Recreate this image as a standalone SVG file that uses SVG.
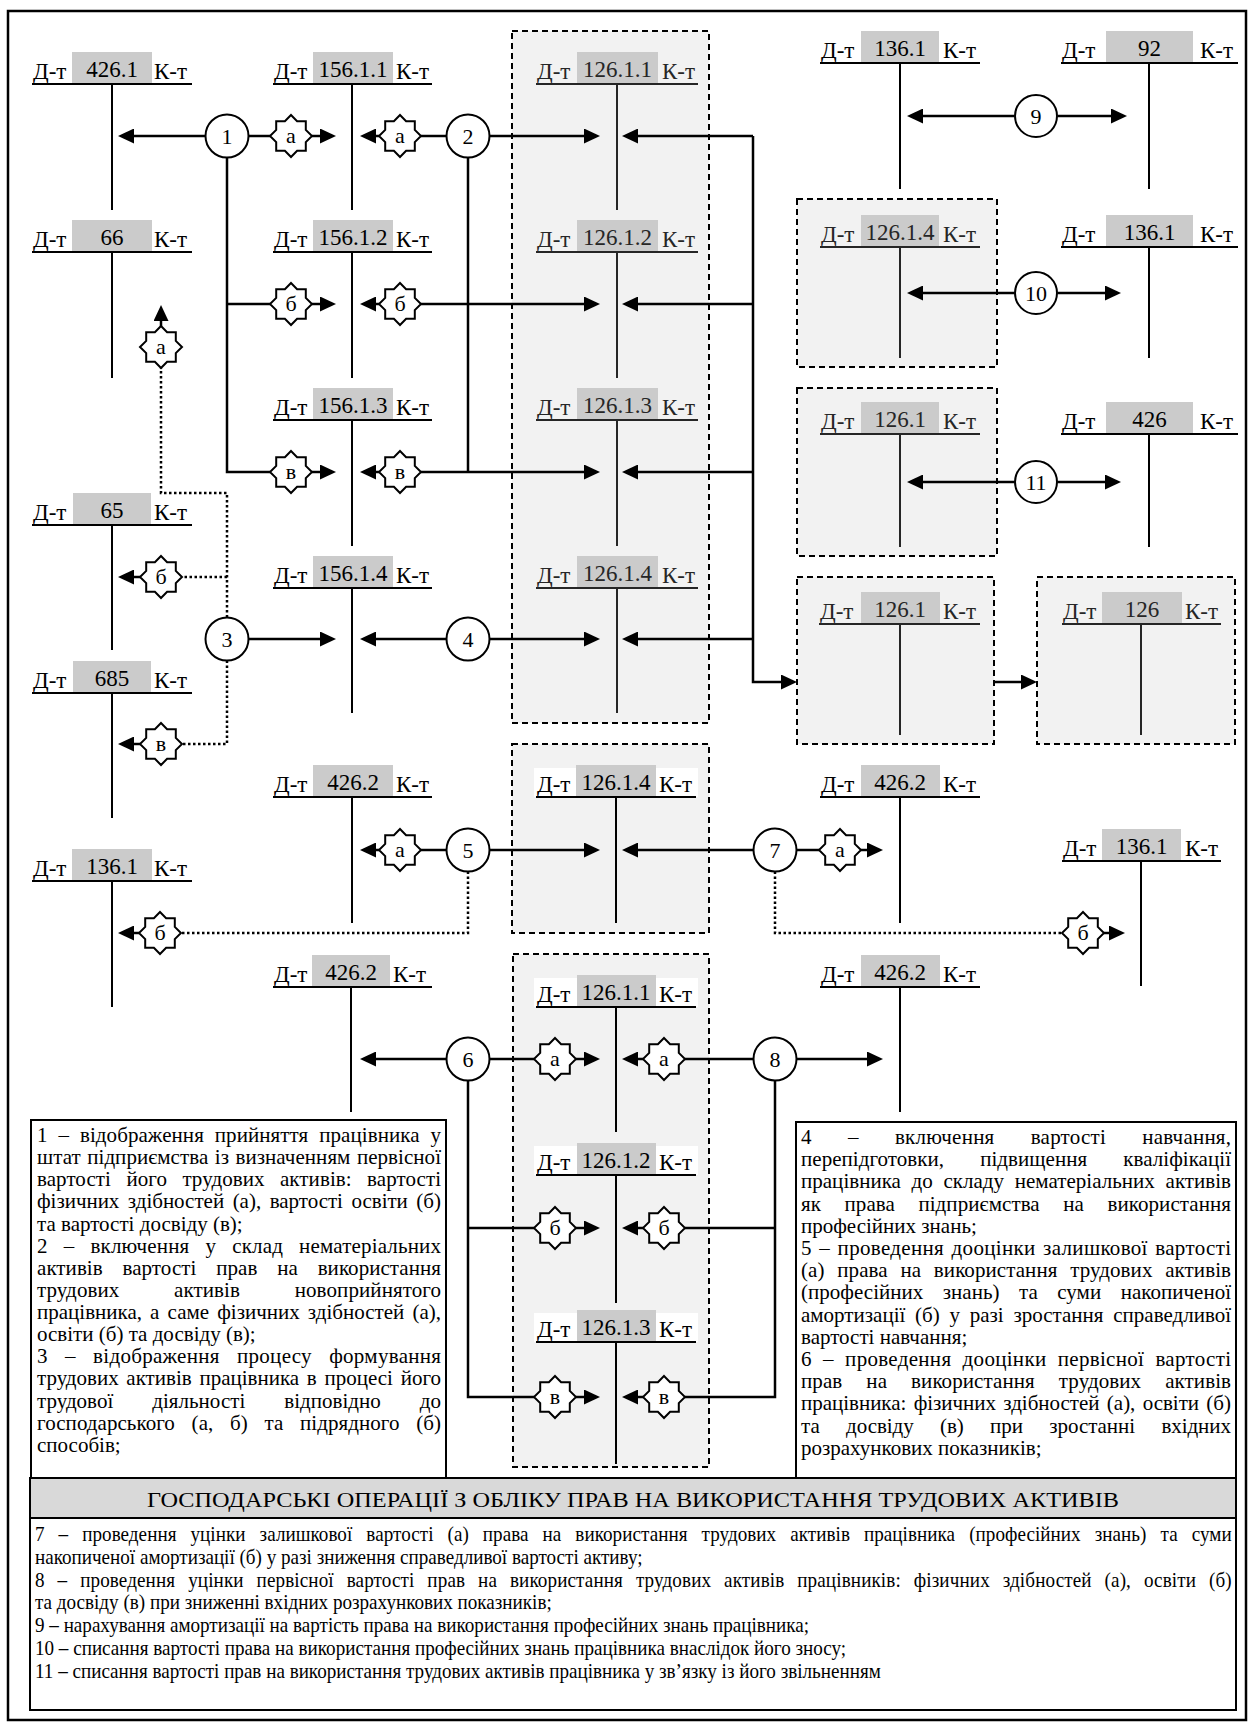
<svg xmlns="http://www.w3.org/2000/svg" xmlns:xlink="http://www.w3.org/1999/xlink" width="1248" height="1724" viewBox="0 0 1248 1724">
<style>
.ln{stroke:#000;stroke-width:2;fill:none}
.lg{stroke:#262626;stroke-width:2;fill:none}
.lbl{font-family:"Liberation Serif","Times New Roman",serif;font-size:23px;fill:#000}
.lblg{font-family:"Liberation Serif","Times New Roman",serif;font-size:23px;fill:#262626}
.hdr{fill:#cbcbcb}
.wb{fill:#fff}
.dash{fill:#f2f2f2;stroke:#000;stroke-width:2;stroke-dasharray:6 4}
.circ{fill:#fff;stroke:#000;stroke-width:2}
.star{fill:#fff;stroke:#000;stroke-width:2;stroke-linejoin:miter}
.num{font-family:"Liberation Serif","Times New Roman",serif;font-size:22px;text-anchor:middle}
.conn{fill:none;stroke:#000;stroke-width:2.5}
.dot{fill:none;stroke:#000;stroke-width:2.5;stroke-dasharray:2.5 2.5}
.tx{font-family:"Liberation Serif","Times New Roman",serif;font-size:21px}
.tb{font-family:"Liberation Serif","Times New Roman",serif;font-size:21px}
.box{fill:#fff;stroke:#000;stroke-width:2}
</style>
<defs>
<marker id="ah" markerUnits="userSpaceOnUse" markerWidth="16" markerHeight="15" refX="8" refY="7.5" orient="auto">
<path d="M0,0 L16,7.5 L0,15 Z" fill="#000"/>
</marker>
<path id="st" d="M0,-21 L6.1,-14.8 L14.8,-14.8 L14.8,-6.1 L21,0 L14.8,6.1 L14.8,14.8 L6.1,14.8 L0,21 L-6.1,14.8 L-14.8,14.8 L-14.8,6.1 L-21,0 L-14.8,-6.1 L-14.8,-14.8 L-6.1,-14.8 Z"/>
</defs>
<rect x="8" y="11" width="1238" height="1709" fill="#fff" stroke="#000" stroke-width="2.5"/>

<g id="groups">
<rect id="boxA" class="dash" x="512" y="31" width="197" height="692"/>
<rect id="boxB" class="dash" x="797" y="199" width="200" height="168"/>
<rect id="boxC" class="dash" x="797" y="388" width="200" height="168"/>
<rect id="boxD" class="dash" x="797" y="577" width="197" height="167"/>
<rect id="boxE" class="dash" x="1037" y="577" width="198" height="167"/>
<rect id="boxF" class="dash" x="512" y="744" width="197" height="189"/>
<rect id="boxG" class="dash" x="513" y="954" width="196" height="513"/>
</g>

<g id="acc-426-1"><rect class="hdr" x="72" y="52" width="80" height="32"/><text class="lbl" x="33" y="79">Д-т</text><text class="lbl" x="112" y="77" text-anchor="middle">426.1</text><text class="lbl" x="154" y="79">К-т</text><path class="ln" d="M32,84 H192 M112,84 V210"/></g>
<g id="acc-66"><rect class="hdr" x="72" y="220" width="80" height="32"/><text class="lbl" x="33" y="247">Д-т</text><text class="lbl" x="112" y="245" text-anchor="middle">66</text><text class="lbl" x="154" y="247">К-т</text><path class="ln" d="M32,252 H192 M112,252 V378"/></g>
<g id="acc-65"><rect class="hdr" x="73" y="493" width="78" height="32"/><text class="lbl" x="33" y="520">Д-т</text><text class="lbl" x="112" y="518" text-anchor="middle">65</text><text class="lbl" x="154" y="520">К-т</text><path class="ln" d="M32,525 H192 M112,525 V650"/></g>
<g id="acc-685"><rect class="hdr" x="73" y="661" width="78" height="32"/><text class="lbl" x="33" y="688">Д-т</text><text class="lbl" x="112" y="686" text-anchor="middle">685</text><text class="lbl" x="154" y="688">К-т</text><path class="ln" d="M32,693 H192 M112,693 V818"/></g>
<g id="acc-136-1-left"><rect class="hdr" x="72" y="849" width="80" height="32"/><text class="lbl" x="33" y="876">Д-т</text><text class="lbl" x="112" y="874" text-anchor="middle">136.1</text><text class="lbl" x="154" y="876">К-т</text><path class="ln" d="M32,881 H192 M112,881 V1007"/></g>

<g id="acc-156-1-1"><rect class="hdr" x="313" y="52" width="80" height="32"/><text class="lbl" x="274" y="79">Д-т</text><text class="lbl" x="353" y="77" text-anchor="middle">156.1.1</text><text class="lbl" x="396" y="79">К-т</text><path class="ln" d="M273,84 H432 M352,84 V210"/></g>
<g id="acc-156-1-2"><rect class="hdr" x="313" y="220" width="80" height="32"/><text class="lbl" x="274" y="247">Д-т</text><text class="lbl" x="353" y="245" text-anchor="middle">156.1.2</text><text class="lbl" x="396" y="247">К-т</text><path class="ln" d="M273,252 H432 M352,252 V378"/></g>
<g id="acc-156-1-3"><rect class="hdr" x="313" y="388" width="80" height="32"/><text class="lbl" x="274" y="415">Д-т</text><text class="lbl" x="353" y="413" text-anchor="middle">156.1.3</text><text class="lbl" x="396" y="415">К-т</text><path class="ln" d="M273,420 H432 M352,420 V546"/></g>
<g id="acc-156-1-4"><rect class="hdr" x="313" y="556" width="80" height="32"/><text class="lbl" x="274" y="583">Д-т</text><text class="lbl" x="353" y="581" text-anchor="middle">156.1.4</text><text class="lbl" x="396" y="583">К-т</text><path class="ln" d="M273,588 H432 M352,588 V713"/></g>
<g id="acc-426-2-a"><rect class="hdr" x="313" y="765" width="80" height="32"/><text class="lbl" x="274" y="792">Д-т</text><text class="lbl" x="353" y="790" text-anchor="middle">426.2</text><text class="lbl" x="396" y="792">К-т</text><path class="ln" d="M273,797 H432 M352,797 V923"/></g>
<g id="acc-426-2-b"><rect class="hdr" x="312" y="955" width="78" height="32"/><text class="lbl" x="274" y="982">Д-т</text><text class="lbl" x="351" y="980" text-anchor="middle">426.2</text><text class="lbl" x="393" y="982">К-т</text><path class="ln" d="M273,987 H432 M351,987 V1112"/></g>

<g id="acc-126-1-1"><rect class="hdr" x="577" y="52" width="81" height="32"/><text class="lblg" x="537" y="79">Д-т</text><text class="lblg" x="617.5" y="77" text-anchor="middle">126.1.1</text><text class="lblg" x="662" y="79">К-т</text><path class="lg" d="M536,84 H698 M617,84 V210"/></g>
<g id="acc-126-1-2"><rect class="hdr" x="577" y="220" width="81" height="32"/><text class="lblg" x="537" y="247">Д-т</text><text class="lblg" x="617.5" y="245" text-anchor="middle">126.1.2</text><text class="lblg" x="662" y="247">К-т</text><path class="lg" d="M536,252 H698 M617,252 V378"/></g>
<g id="acc-126-1-3"><rect class="hdr" x="577" y="388" width="81" height="32"/><text class="lblg" x="537" y="415">Д-т</text><text class="lblg" x="617.5" y="413" text-anchor="middle">126.1.3</text><text class="lblg" x="662" y="415">К-т</text><path class="lg" d="M536,420 H698 M617,420 V546"/></g>
<g id="acc-126-1-4"><rect class="hdr" x="577" y="556" width="81" height="32"/><text class="lblg" x="537" y="583">Д-т</text><text class="lblg" x="617.5" y="581" text-anchor="middle">126.1.4</text><text class="lblg" x="662" y="583">К-т</text><path class="lg" d="M536,588 H698 M617,588 V713"/></g>

<g id="acc-126-1-4-m"><rect class="wb" x="534" y="768" width="42" height="29"/><rect class="wb" x="656" y="768" width="42" height="29"/><rect class="hdr" x="576" y="765" width="80" height="32"/><text class="lbl" x="537" y="792">Д-т</text><text class="lbl" x="616" y="790" text-anchor="middle">126.1.4</text><text class="lbl" x="659" y="792">К-т</text><path class="ln" d="M536,797 H696 M616,797 V923"/></g>

<g id="acc-126-1-1-b"><rect class="wb" x="534" y="978" width="43" height="29"/><rect class="wb" x="656" y="978" width="42" height="29"/><rect class="hdr" x="577" y="975" width="79" height="32"/><text class="lbl" x="537" y="1002">Д-т</text><text class="lbl" x="616" y="1000" text-anchor="middle">126.1.1</text><text class="lbl" x="659" y="1002">К-т</text><path class="ln" d="M536,1007 H696 M616,1007 V1132"/></g>
<g id="acc-126-1-2-b"><rect class="wb" x="534" y="1146" width="43" height="29"/><rect class="wb" x="656" y="1146" width="42" height="29"/><rect class="hdr" x="577" y="1143" width="79" height="32"/><text class="lbl" x="537" y="1170">Д-т</text><text class="lbl" x="616" y="1168" text-anchor="middle">126.1.2</text><text class="lbl" x="659" y="1170">К-т</text><path class="ln" d="M536,1175 H696 M616,1175 V1303"/></g>
<g id="acc-126-1-3-b"><rect class="wb" x="534" y="1313" width="43" height="29"/><rect class="wb" x="656" y="1313" width="42" height="29"/><rect class="hdr" x="577" y="1310" width="79" height="32"/><text class="lbl" x="537" y="1337">Д-т</text><text class="lbl" x="616" y="1335" text-anchor="middle">126.1.3</text><text class="lbl" x="659" y="1337">К-т</text><path class="ln" d="M536,1342 H696 M616,1342 V1464"/></g>

<g id="acc-136-1-top"><rect class="hdr" x="861" y="31" width="78" height="32"/><text class="lbl" x="821" y="58">Д-т</text><text class="lbl" x="900" y="56" text-anchor="middle">136.1</text><text class="lbl" x="943" y="58">К-т</text><path class="ln" d="M820,63 H980 M900,63 V189"/></g>
<g id="acc-92"><rect class="hdr" x="1106" y="31" width="87" height="32"/><text class="lbl" x="1062" y="58">Д-т</text><text class="lbl" x="1149.5" y="56" text-anchor="middle">92</text><text class="lbl" x="1200" y="58">К-т</text><path class="ln" d="M1061,63 H1238 M1149,63 V189"/></g>
<g id="acc-126-1-4-r"><rect class="hdr" x="861" y="215" width="78" height="32"/><text class="lblg" x="821" y="242">Д-т</text><text class="lblg" x="900" y="240" text-anchor="middle">126.1.4</text><text class="lblg" x="943" y="242">К-т</text><path class="lg" d="M820,247 H980 M900,247 V358"/></g>
<g id="acc-136-1-r"><rect class="hdr" x="1106" y="215" width="87" height="32"/><text class="lbl" x="1062" y="242">Д-т</text><text class="lbl" x="1149.5" y="240" text-anchor="middle">136.1</text><text class="lbl" x="1200" y="242">К-т</text><path class="ln" d="M1061,247 H1238 M1149,247 V358"/></g>
<g id="acc-126-1-c"><rect class="hdr" x="861" y="402" width="78" height="32"/><text class="lblg" x="821" y="429">Д-т</text><text class="lblg" x="900" y="427" text-anchor="middle">126.1</text><text class="lblg" x="943" y="429">К-т</text><path class="lg" d="M820,434 H980 M900,434 V547"/></g>
<g id="acc-426"><rect class="hdr" x="1106" y="402" width="87" height="32"/><text class="lbl" x="1062" y="429">Д-т</text><text class="lbl" x="1149.5" y="427" text-anchor="middle">426</text><text class="lbl" x="1200" y="429">К-т</text><path class="ln" d="M1061,434 H1238 M1149,434 V547"/></g>
<g id="acc-126-1-d"><rect class="hdr" x="861" y="592" width="79" height="32"/><text class="lblg" x="820" y="619">Д-т</text><text class="lblg" x="900" y="617" text-anchor="middle">126.1</text><text class="lblg" x="943" y="619">К-т</text><path class="lg" d="M819,624 H980 M900,624 V735"/></g>
<g id="acc-126"><rect class="hdr" x="1102" y="592" width="80" height="32"/><text class="lblg" x="1063" y="619">Д-т</text><text class="lblg" x="1142" y="617" text-anchor="middle">126</text><text class="lblg" x="1185" y="619">К-т</text><path class="lg" d="M1062,624 H1221 M1141,624 V735"/></g>
<g id="acc-426-2-r"><rect class="hdr" x="861" y="765" width="79" height="32"/><text class="lbl" x="821" y="792">Д-т</text><text class="lbl" x="900" y="790" text-anchor="middle">426.2</text><text class="lbl" x="943" y="792">К-т</text><path class="ln" d="M820,797 H980 M900,797 V923"/></g>
<g id="acc-136-1-rl"><rect class="hdr" x="1102" y="829" width="79" height="32"/><text class="lbl" x="1063" y="856">Д-т</text><text class="lbl" x="1141.5" y="854" text-anchor="middle">136.1</text><text class="lbl" x="1185" y="856">К-т</text><path class="ln" d="M1062,861 H1221 M1141,861 V986"/></g>
<g id="acc-426-2-rb"><rect class="hdr" x="861" y="955" width="79" height="32"/><text class="lbl" x="821" y="982">Д-т</text><text class="lbl" x="900" y="980" text-anchor="middle">426.2</text><text class="lbl" x="943" y="982">К-т</text><path class="ln" d="M820,987 H980 M900,987 V1112"/></g>

<g id="connectors">
<path class="conn" d="M205.5,136 H126" marker-end="url(#ah)"/>
<path class="conn" d="M248.5,136 H270"/>
<path class="conn" d="M312,136 H328" marker-end="url(#ah)"/>
<path class="conn" d="M379,136 H368" marker-end="url(#ah)"/>
<path class="conn" d="M421,136 H446.5"/>
<path class="conn" d="M489.5,136 H592" marker-end="url(#ah)"/>
<path class="conn" d="M753,136 H630" marker-end="url(#ah)"/>
<path class="conn" d="M753,136 V682 H789" marker-end="url(#ah)"/>
<path class="conn" d="M227,157.5 V472 H270 M227,304 H270"/>
<path class="conn" d="M312,304 H328" marker-end="url(#ah)"/>
<path class="conn" d="M312,472 H328" marker-end="url(#ah)"/>
<path class="conn" d="M379,304 H368" marker-end="url(#ah)"/>
<path class="conn" d="M379,472 H368" marker-end="url(#ah)"/>
<path class="conn" d="M468,157.5 V472"/>
<path class="conn" d="M421,304 H592" marker-end="url(#ah)"/>
<path class="conn" d="M421,472 H592" marker-end="url(#ah)"/>
<path class="conn" d="M753,304 H630" marker-end="url(#ah)"/>
<path class="conn" d="M753,472 H630" marker-end="url(#ah)"/>
<path class="conn" d="M753,639 H630" marker-end="url(#ah)"/>
<path class="conn" d="M248.5,639 H328" marker-end="url(#ah)"/>
<path class="conn" d="M446.5,639 H368" marker-end="url(#ah)"/>
<path class="conn" d="M489.5,639 H592" marker-end="url(#ah)"/>
<path class="conn" d="M994,682 H1029" marker-end="url(#ah)"/>
<path class="conn" d="M1014.5,116 H915" marker-end="url(#ah)"/>
<path class="conn" d="M1057.5,116 H1119" marker-end="url(#ah)"/>
<path class="conn" d="M1014.5,293 H915" marker-end="url(#ah)"/>
<path class="conn" d="M1057.5,293 H1113" marker-end="url(#ah)"/>
<path class="conn" d="M1014.5,482 H915" marker-end="url(#ah)"/>
<path class="conn" d="M1057.5,482 H1113" marker-end="url(#ah)"/>
<path class="conn" d="M379,850 H368" marker-end="url(#ah)"/>
<path class="conn" d="M421,850 H446.5"/>
<path class="conn" d="M489.5,850 H592" marker-end="url(#ah)"/>
<path class="conn" d="M753.5,850 H630" marker-end="url(#ah)"/>
<path class="conn" d="M796.5,850 H819"/>
<path class="conn" d="M861,850 H875" marker-end="url(#ah)"/>
<path class="dot" d="M468,871.5 V933 H181"/>
<path class="conn" d="M139,933 H126" marker-end="url(#ah)"/>
<path class="dot" d="M775,871.5 V933 H1062"/>
<path class="conn" d="M1104,933 H1117" marker-end="url(#ah)"/>
<path class="conn" d="M446.5,1059 H368" marker-end="url(#ah)"/>
<path class="conn" d="M489.5,1059 H534"/>
<path class="conn" d="M576,1059 H592" marker-end="url(#ah)"/>
<path class="conn" d="M753.5,1059 H685"/>
<path class="conn" d="M643,1059 H630" marker-end="url(#ah)"/>
<path class="conn" d="M796.5,1059 H875" marker-end="url(#ah)"/>
<path class="conn" d="M468,1080.5 V1397 H534 M468,1228 H534"/>
<path class="conn" d="M576,1228 H592" marker-end="url(#ah)"/>
<path class="conn" d="M576,1397 H592" marker-end="url(#ah)"/>
<path class="conn" d="M775,1080.5 V1397 H685 M775,1228 H685"/>
<path class="conn" d="M643,1228 H630" marker-end="url(#ah)"/>
<path class="conn" d="M643,1397 H630" marker-end="url(#ah)"/>
<path class="dot" d="M227,617.5 V493 H161 V368"/>
<path class="conn" d="M161,326 V313" marker-end="url(#ah)"/>
<path class="dot" d="M227,577 H182"/>
<path class="conn" d="M140,577 H126" marker-end="url(#ah)"/>
<path class="dot" d="M227,660.5 V744 H182"/>
<path class="conn" d="M140,744 H126" marker-end="url(#ah)"/>
</g>

<g id="stars">
<g id="s1a"><use href="#st" class="star" x="291" y="136"/><text class="num" x="291" y="143">а</text></g>
<g id="s1b"><use href="#st" class="star" x="291" y="304"/><text class="num" x="291" y="311">б</text></g>
<g id="s1c"><use href="#st" class="star" x="291" y="472"/><text class="num" x="291" y="479">в</text></g>
<g id="s2a"><use href="#st" class="star" x="400" y="136"/><text class="num" x="400" y="143">а</text></g>
<g id="s2b"><use href="#st" class="star" x="400" y="304"/><text class="num" x="400" y="311">б</text></g>
<g id="s2c"><use href="#st" class="star" x="400" y="472"/><text class="num" x="400" y="479">в</text></g>
<g id="s3a"><use href="#st" class="star" x="161" y="347"/><text class="num" x="161" y="354">а</text></g>
<g id="s3b"><use href="#st" class="star" x="161" y="577"/><text class="num" x="161" y="584">б</text></g>
<g id="s3c"><use href="#st" class="star" x="161" y="744"/><text class="num" x="161" y="751">в</text></g>
<g id="s5a"><use href="#st" class="star" x="400" y="850"/><text class="num" x="400" y="857">а</text></g>
<g id="s5b"><use href="#st" class="star" x="160" y="933"/><text class="num" x="160" y="940">б</text></g>
<g id="s7a"><use href="#st" class="star" x="840" y="850"/><text class="num" x="840" y="857">а</text></g>
<g id="s7b"><use href="#st" class="star" x="1083" y="933"/><text class="num" x="1083" y="940">б</text></g>
<g id="s6a"><use href="#st" class="star" x="555" y="1059"/><text class="num" x="555" y="1066">а</text></g>
<g id="s6b"><use href="#st" class="star" x="555" y="1228"/><text class="num" x="555" y="1235">б</text></g>
<g id="s6c"><use href="#st" class="star" x="555" y="1397"/><text class="num" x="555" y="1404">в</text></g>
<g id="s8a"><use href="#st" class="star" x="664" y="1059"/><text class="num" x="664" y="1066">а</text></g>
<g id="s8b"><use href="#st" class="star" x="664" y="1228"/><text class="num" x="664" y="1235">б</text></g>
<g id="s8c"><use href="#st" class="star" x="664" y="1397"/><text class="num" x="664" y="1404">в</text></g>
</g>

<g id="op1"><circle class="circ" cx="227" cy="136" r="21.5"/><text class="num" x="227" y="144">1</text></g>
<g id="op2"><circle class="circ" cx="468" cy="136" r="21.5"/><text class="num" x="468" y="144">2</text></g>
<g id="op3"><circle class="circ" cx="227" cy="639" r="21.5"/><text class="num" x="227" y="647">3</text></g>
<g id="op4"><circle class="circ" cx="468" cy="639" r="21.5"/><text class="num" x="468" y="647">4</text></g>
<g id="op5"><circle class="circ" cx="468" cy="850" r="21.5"/><text class="num" x="468" y="858">5</text></g>
<g id="op6"><circle class="circ" cx="468" cy="1059" r="21.5"/><text class="num" x="468" y="1067">6</text></g>
<g id="op7"><circle class="circ" cx="775" cy="850" r="21.5"/><text class="num" x="775" y="858">7</text></g>
<g id="op8"><circle class="circ" cx="775" cy="1059" r="21.5"/><text class="num" x="775" y="1067">8</text></g>
<g id="op9"><circle class="circ" cx="1036" cy="116" r="21"/><text class="num" x="1036" y="124">9</text></g>
<g id="op10"><circle class="circ" cx="1036" cy="293" r="21"/><text class="num" x="1036" y="301">10</text></g>
<g id="op11"><circle class="circ" cx="1036" cy="482" r="21"/><text class="num" x="1036" y="490">11</text></g>

<g id="legend-left">
<rect class="box" x="31" y="1120" width="415" height="358"/>
<text class="tx" x="37" y="1142" word-spacing="5.6" textLength="404" lengthAdjust="spacing">1 – відображення прийняття працівника у</text>
<text class="tx" x="37" y="1164" word-spacing="1.2" textLength="404" lengthAdjust="spacing">штат підприємства із визначенням первісної</text>
<text class="tx" x="37" y="1186" word-spacing="10.1" textLength="404" lengthAdjust="spacing">вартості його трудових активів: вартості</text>
<text class="tx" x="37" y="1208" word-spacing="3.3" textLength="404" lengthAdjust="spacing">фізичних здібностей (а), вартості освіти (б)</text>
<text class="tx" x="37" y="1231">та вартості досвіду (в);</text>
<text class="tx" x="37" y="1253" word-spacing="10.7" textLength="404" lengthAdjust="spacing">2 – включення у склад нематеріальних</text>
<text class="tx" x="37" y="1275" word-spacing="14.5" textLength="404" lengthAdjust="spacing">активів вартості прав на використання</text>
<text class="tx" x="37" y="1297" word-spacing="49.3" textLength="404" lengthAdjust="spacing">трудових активів новоприйнятого</text>
<text class="tx" x="37" y="1319" word-spacing="2.9" textLength="404" lengthAdjust="spacing">працівника, а саме фізичних здібностей (а),</text>
<text class="tx" x="37" y="1341">освіти (б) та досвіду (в);</text>
<text class="tx" x="37" y="1363" word-spacing="11.7" textLength="404" lengthAdjust="spacing">3 – відображення процесу формування</text>
<text class="tx" x="37" y="1385" word-spacing="2.5" textLength="404" lengthAdjust="spacing">трудових активів працівника в процесі його</text>
<text class="tx" x="37" y="1408" word-spacing="33.7" textLength="404" lengthAdjust="spacing">трудової діяльності відповідно до</text>
<text class="tx" x="37" y="1430" word-spacing="11.4" textLength="404" lengthAdjust="spacing">господарського (а, б) та підрядного (б)</text>
<text class="tx" x="37" y="1452">способів;</text>
</g>

<g id="legend-right">
<rect class="box" x="796" y="1122" width="440" height="356"/>
<text class="tx" x="801" y="1144" word-spacing="30.8" textLength="430" lengthAdjust="spacing">4 – включення вартості навчання,</text>
<text class="tx" x="801" y="1166" word-spacing="30.8" textLength="430" lengthAdjust="spacing">перепідготовки, підвищення кваліфікації</text>
<text class="tx" x="801" y="1188" word-spacing="5.4" textLength="430" lengthAdjust="spacing">працівника до складу нематеріальних активів</text>
<text class="tx" x="801" y="1211" word-spacing="18.2" textLength="430" lengthAdjust="spacing">як права підприємства на використання</text>
<text class="tx" x="801" y="1233">професійних знань;</text>
<text class="tx" x="801" y="1255" word-spacing="1.9" textLength="430" lengthAdjust="spacing">5 – проведення дооцінки залишкової вартості</text>
<text class="tx" x="801" y="1277" word-spacing="7.4" textLength="430" lengthAdjust="spacing">(а) права на використання трудових активів</text>
<text class="tx" x="801" y="1299" word-spacing="14.2" textLength="430" lengthAdjust="spacing">(професійних знань) та суми накопиченої</text>
<text class="tx" x="801" y="1322" word-spacing="4.5" textLength="430" lengthAdjust="spacing">амортизації (б) у разі зростання справедливої</text>
<text class="tx" x="801" y="1344">вартості навчання;</text>
<text class="tx" x="801" y="1366" word-spacing="5.7" textLength="430" lengthAdjust="spacing">6 – проведення дооцінки первісної вартості</text>
<text class="tx" x="801" y="1388" word-spacing="18.7" textLength="430" lengthAdjust="spacing">прав на використання трудових активів</text>
<text class="tx" x="801" y="1410" word-spacing="2.1" textLength="430" lengthAdjust="spacing">працівника: фізичних здібностей (а), освіти (б)</text>
<text class="tx" x="801" y="1433" word-spacing="21.2" textLength="430" lengthAdjust="spacing">та досвіду (в) при зростанні вхідних</text>
<text class="tx" x="801" y="1455">розрахункових показників;</text>
</g>

<g id="title">
<rect x="30" y="1478" width="1206" height="40" fill="#d9d9d9" stroke="#000" stroke-width="2"/>
<text x="633" y="1507" text-anchor="middle" textLength="972" lengthAdjust="spacingAndGlyphs" style="font-family:'Liberation Serif','Times New Roman',serif;font-size:22px">ГОСПОДАРСЬКІ ОПЕРАЦІЇ З ОБЛІКУ ПРАВ НА ВИКОРИСТАННЯ ТРУДОВИХ АКТИВІВ</text>
</g>

<g id="legend-bottom">
<rect class="box" x="30" y="1518" width="1206" height="192"/>
<g transform="translate(35,0) scale(0.91,1)">
<text class="tb" x="0" y="1541" word-spacing="10.1" textLength="1315" lengthAdjust="spacing">7 – проведення уцінки залишкової вартості (а) права на використання трудових активів працівника (професійних знань) та суми</text>
<text class="tb" x="0" y="1564">накопиченої амортизації (б) у разі зниження справедливої вартості активу;</text>
<text class="tb" x="0" y="1587" word-spacing="8.8" textLength="1315" lengthAdjust="spacing">8 – проведення уцінки первісної вартості прав на використання трудових активів працівників: фізичних здібностей (а), освіти (б)</text>
<text class="tb" x="0" y="1609">та досвіду (в) при зниженні вхідних розрахункових показників;</text>
<text class="tb" x="0" y="1632">9 – нарахування амортизації на вартість права на використання професійних знань працівника;</text>
<text class="tb" x="0" y="1655">10 – списання вартості права на використання професійних знань працівника внаслідок його зносу;</text>
<text class="tb" x="0" y="1678">11 – списання вартості прав на використання трудових активів працівника у зв’язку із його звільненням</text>
</g>
</g>
</svg>
